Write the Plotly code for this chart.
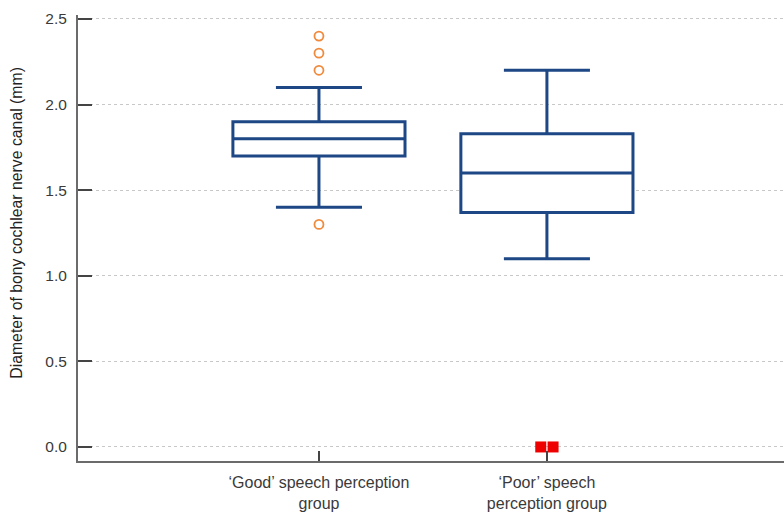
import plotly.graph_objects as go

# Summary statistics for each group (mm)
groups = ["‘Good’ speech perception<br>group", "‘Poor’ speech<br>perception group"]
q1 = [1.70, 1.37]
median = [1.80, 1.60]
q3 = [1.90, 1.83]
lower_whisker = [1.40, 1.10]
upper_whisker = [2.10, 2.20]

# Outlying observations
good_outliers = [2.4, 2.3, 2.2, 1.3]
poor_extremes = [0.0, 0.0]

y_ticks = [0.0, 0.5, 1.0, 1.5, 2.0, 2.5]
y_title = "Diameter of bony cochlear nerve canal (mm)"

BOX_COLOR = "#1d4785"
FONT = "Liberation Sans, Arial, sans-serif"
positions = list(range(len(groups)))

fig = go.Figure()

fig.add_trace(go.Box(
    x=positions,
    q1=q1, median=median, q3=q3,
    lowerfence=lower_whisker, upperfence=upper_whisker,
    boxpoints=False,
    width=0.755,
    whiskerwidth=0.5,
    line=dict(color=BOX_COLOR, width=3),
    fillcolor="white",
    showlegend=False,
    hoverinfo="skip",
))

# Open orange circles for the 'Good' group outliers
fig.add_trace(go.Scatter(
    x=[positions[0]] * len(good_outliers),
    y=good_outliers,
    mode="markers",
    marker=dict(symbol="circle-open", size=9, color="#f08a3c", line=dict(width=1.8)),
    showlegend=False,
))

# Filled red squares for the 'Poor' group extremes, placed side by side
offsets = [-0.027, 0.027]
fig.add_trace(go.Scatter(
    x=[positions[1] + o for o in offsets],
    y=poor_extremes,
    mode="markers",
    marker=dict(symbol="square", size=11, color="#ee0000"),
    showlegend=False,
))

fig.update_layout(
    width=784, height=514,
    margin=dict(l=78, r=0, t=15, b=53),
    plot_bgcolor="white", paper_bgcolor="white",
    font=dict(family=FONT, size=13, color="#3a3a3a"),
)

# Vertical axis title, set slightly above the plot centre
fig.add_annotation(
    text=y_title, textangle=-90,
    xref="paper", yref="paper", x=-0.0865, y=0.534,
    xanchor="center", yanchor="middle", showarrow=False,
    font=dict(family=FONT, size=15.8, color="#222222"),
)

fig.update_xaxes(
    range=[-1.057, 2.04],
    tickmode="array", tickvals=positions, ticktext=groups,
    ticks="inside", ticklen=10, tickwidth=1.5, tickcolor="#444444",
    showline=True, linecolor="#6b6b6b", linewidth=2,
    showgrid=False, zeroline=False,
    tickfont=dict(size=16, color="#3a3a3a"),
    ticklabelstandoff=6,
)

fig.update_yaxes(
    range=[-0.082, 2.523],
    tickmode="array", tickvals=y_ticks,
    ticktext=[f"{v:.1f}" for v in y_ticks],
    ticks="inside", ticklen=14, tickwidth=2, tickcolor="#444444",
    showline=True, linecolor="#6b6b6b", linewidth=2,
    showgrid=True, gridcolor="#c8c8c8", gridwidth=1, griddash="dot",
    zeroline=False,
    tickfont=dict(size=15.5, color="#3a3a3a"),
    ticklabelstandoff=6,
)

fig.write_html("out.html")
